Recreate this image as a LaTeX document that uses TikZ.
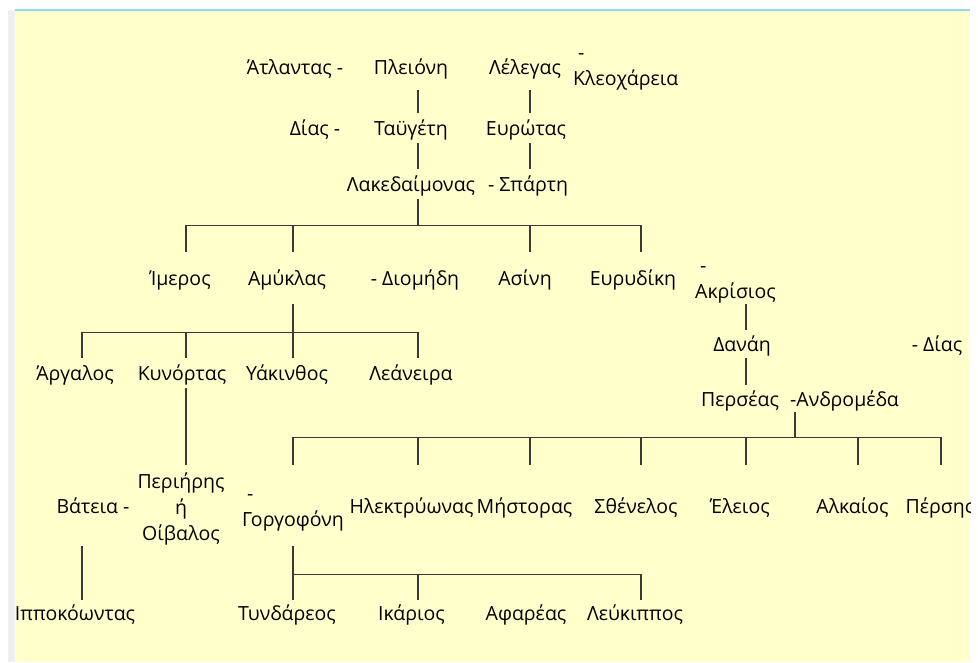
\documentclass[tikz,border=0pt]{standalone}
\usepackage{fontspec}
\setmainfont{Open Sans}
\definecolor{paper}{HTML}{FFFFCC}
\definecolor{rim}{HTML}{8ED8F0}
\definecolor{strip}{HTML}{EFEFEF}
\definecolor{ink}{HTML}{3A3A3A}

\begin{document}
\begin{tikzpicture}[
  x=1pt, y=-1pt,
  font=\fontsize{19.5}{26}\selectfont,
  nm/.style  ={inner sep=0pt, text height=17pt, text depth=2pt, minimum height=#1},
  nm/.default=30pt,
  pair/.style={inner sep=0pt, align=left, minimum height=#1},
  pair/.default=0pt,
  link/.style={draw=ink, line width=1.3pt}
]
\useasboundingbox (0,0) rectangle (978,662);
\fill[strip] (8,10) rectangle (15,662);
\fill[paper] (15,10) rectangle (970,662);
\draw[rim, line width=1.2pt] (15,10) -- (970,10);

\begin{scope}
\clip (15,10) rectangle (970,662);

% Atlas, Pleione, Lelex
\node[nm=46pt] (atl)  at (295,67)  {Άτλαντας -};
\node[nm=46pt] (plei) at (411,67)  {Πλειόνη};
\node[nm=46pt] (lel)  at (525,67)  {Λέλεγας};
\node[pair, anchor=west] (kleo) at (573,72) {\hspace*{5pt}-\\Κλεοχάρεια};

\node[nm] (dias)  at (315,128) {Δίας -};
\node[nm] (tayg)  at (411,128) {Ταϋγέτη};
\node[nm] (evro)  at (526,128) {Ευρώτας};

\node[nm] (lak)   at (411,184) {Λακεδαίμονας};
\node[nm] (spar)  at (528,184) {- Σπάρτη};

\node[nm=52pt] (imer) at (180,278) {Ίμερος};
\node[nm=52pt] (amyk) at (287,278) {Αμύκλας};
\node[nm=52pt] (diom) at (415,278) {- Διομήδη};
\node[nm=52pt] (asin) at (525,278) {Ασίνη};
\node[nm=52pt] (evrd) at (633,278) {Ευρυδίκη};
\node[pair, anchor=west] (akr) at (695,284.5) {\hspace*{5pt}-\\Ακρίσιος};

\node[nm] (argal) at (75,373)  {Άργαλος};
\node[nm] (kyn)   at (182,373) {Κυνόρτας};
\node[nm] (yak)   at (287,373) {Υάκινθος};
\node[nm] (lean)  at (411,373) {Λεάνειρα};

\node[nm=28pt] (dan)   at (742,344) {Δανάη};
\node[nm=28pt] (dias2) at (937,344) {- Δίας};
\node[nm=27pt] (pers)  at (740,398.5) {Περσέας};
\node[nm=27pt, anchor=west] (andr) at (790,398.5) {-Ανδρομέδα};

% row of the grandchildren
\node[nm=81pt] (bat)  at (93,505.5)  {Βάτεια -};
\node[pair, align=center] (peri) at (181,509) {Περιήρης\\ή\\Οίβαλος};
\node[pair] (gorg) at (293,513) {\hspace*{5pt}-\\Γοργοφόνη};
\node[nm=81pt] (ilek)   at (411.5,505.5) {Ηλεκτρύωνας};
\node[nm=81pt] (mist)   at (524.5,505.5) {Μήστορας};
\node[nm=81pt] (sthen)  at (636,505.5)   {Σθένελος};
\node[nm=81pt] (eleios) at (740,505.5)   {Έλειος};
\node[nm=81pt] (alk)    at (852.5,505.5) {Αλκαίος};
\node[nm=81pt] (persis) at (940,505.5)   {Πέρσης};

\node[nm=26pt] (ipp)  at (75,613)    {Ιπποκόωντας};
\node[nm=26pt] (tyn)  at (287,613)   {Τυνδάρεος};
\node[nm=26pt] (ikar) at (411.5,613) {Ικάριος};
\node[nm=26pt] (afar) at (526,613)   {Αφαρέας};
\node[nm=26pt] (leuk) at (635,613)   {Λεύκιππος};
\end{scope}

% single lines
\draw[link] ([xshift=7pt]plei.south) -- ([xshift=7pt]tayg.north);
\draw[link] ([xshift=7pt]tayg.south) -- ([xshift=7pt]tayg.south |- lak.north);
\draw[link] ([xshift=5pt]lel.south) -- ([xshift=5pt]lel.south |- evro.north);
\draw[link] ([xshift=4pt]evro.south) -- ([xshift=4pt]evro.south |- spar.north);
\draw[link] ([xshift=4pt]dan.north |- imer.south) -- ([xshift=4pt]dan.north);
\draw[link] ([xshift=4pt]dan.south) -- ([xshift=4pt]dan.south |- pers.north);
\draw[link] ([xshift=4pt]kyn.south) -- ([xshift=4pt]kyn.south |- bat.north);
\draw[link] ([xshift=7pt]ipp.north) -- ([xshift=7pt]ipp.north |- bat.south);

% children of Lakedaimon
\coordinate (k1) at ([xshift=7pt, yshift=-26pt]lak.south);
\draw[link] ([xshift=7pt]lak.south) -- (k1);
\draw[link] ([xshift=6pt]imer.north |- k1) -- ([xshift=8pt]evrd.north |- k1);
\foreach \n/\dx in {imer/6pt, amyk/6pt, asin/5pt, evrd/8pt}
  \draw[link] ([xshift=\dx]\n.north) -- ([xshift=\dx]\n.north |- k1);

% children of Amyklas
\coordinate (k2) at ([xshift=6pt, yshift=-28pt]amyk.south);
\draw[link] ([xshift=6pt]amyk.south) -- (k2);
\draw[link] ([xshift=7pt]argal.north |- k2) -- ([xshift=7pt]lean.north |- k2);
\foreach \n/\dx in {argal/7pt, kyn/4pt, yak/6pt, lean/7pt}
  \draw[link] ([xshift=\dx]\n.north) -- ([xshift=\dx]\n.north |- k2);

% children of Perseus and Andromeda
\coordinate (k3) at ([xshift=5pt, yshift=-25pt]andr.south west);
\draw[link] ([xshift=5pt]andr.south west) -- (k3);
\draw[link] (gorg.center |- k3) -- ([xshift=1pt]persis.north |- k3);
\foreach \n/\dx in {gorg/0pt, ilek/6.5pt, mist/5.5pt, sthen/5pt, eleios/6pt, alk/5.5pt, persis/1pt}
  \draw[link] ([xshift=\dx]\n.center |- ilek.north) -- ([xshift=\dx]\n.center |- k3);

% children of Gorgophone
\coordinate (k4) at ([yshift=-28pt]ilek.south -| gorg.center);
\draw[link] (ilek.south -| gorg.center) -- (gorg.center |- tyn.north);
\draw[link] (k4) -- ([xshift=6pt]leuk.north |- k4);
\foreach \n/\dx in {ikar/6.5pt, leuk/6pt}
  \draw[link] ([xshift=\dx]\n.north) -- ([xshift=\dx]\n.north |- k4);

\end{tikzpicture}
\end{document}
